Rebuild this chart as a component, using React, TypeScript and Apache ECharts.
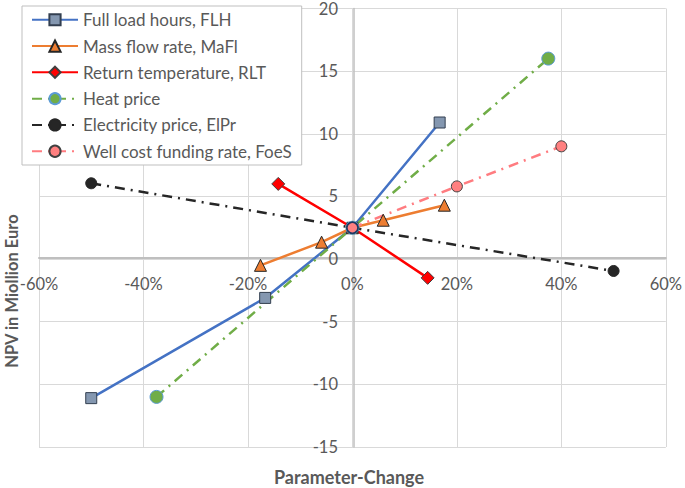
import React, { useEffect, useRef } from "react";
import * as echarts from "echarts";

const xTicks = [-60, -40, -20, 0, 20, 40, 60];
const yTicks = [-15, -10, -5, 0, 5, 10, 15, 20];

const seriesNames = [
  "Full load hours, FLH",
  "Mass flow rate, MaFl",
  "Return temperature, RLT",
  "Heat price",
  "Electricity price, ElPr",
  "Well cost funding rate, FoeS",
];

const flh: [number, number][] = [[-50, -11.1], [-16.7, -3.1], [0, 2.5], [16.7, 10.9]];
const mafl: [number, number][] = [[-17.6, -0.5], [-5.9, 1.35], [0, 2.5], [5.9, 3.1], [17.6, 4.3]];
const rlt: [number, number][] = [[-14.2, 6.0], [0, 2.5], [14.4, -1.5]];
const heat: [number, number][] = [[-37.5, -11.0], [0, 2.5], [37.5, 16.0]];
const elpr: [number, number][] = [[-50, 6.05], [0, 2.5], [50, -0.95]];
const foes: [number, number][] = [[0, 2.5], [20, 5.8], [40, 9.0]];

const FONT = "Lato";
const TXT = "#595959";
const DASHDOT = [10, 6, 2, 6];

const W = 685;
const H = 488;
const GRID = { left: 39, right: 16, top: 6, bottom: 41 };

export default function App() {
  const ref = useRef<HTMLDivElement>(null);
  useEffect(() => {
    if (!ref.current) return;
    const chart = echarts.init(ref.current, undefined, { renderer: "svg" });
    const xMin = xTicks[0];
    const xMax = xTicks[xTicks.length - 1];
    const yMin = yTicks[0];
    const yMax = yTicks[yTicks.length - 1];
    const gw = W - GRID.left - GRID.right;
    const gh = H - GRID.top - GRID.bottom;
    // shift axes so they cross at zero (like Excel)
    const xOffset = -Math.round((gh * (0 - yMin)) / (yMax - yMin));
    const yOffset = -Math.round((gw * (0 - xMin)) / (xMax - xMin));

    const mk = (
      name: string,
      data: any[],
      color: string,
      symbol: string,
      size: number,
      fill: string,
      border: string,
      dash: any
    ) => ({
      name,
      type: "line",
      data,
      symbol,
      symbolSize: size,
      lineStyle: { color, width: 2.5, type: dash },
      itemStyle: { color: fill, borderColor: border, borderWidth: 1 },
      emphasis: { disabled: true },
    });
    const foesData = foes.map((p, i) =>
      i === 0 ? { value: p, itemStyle: { borderColor: "#1F3864", borderWidth: 1.5 } } : p
    );
    chart.setOption({
      animation: false,
      textStyle: { fontFamily: FONT },
      grid: { ...GRID },
      legend: {
        left: 22,
        top: 6,
        orient: "vertical",
        backgroundColor: "#ffffff",
        borderColor: "#BFBFBF",
        borderWidth: 1,
        padding: [3.75, 10, 3.75, 9],
        itemWidth: 46,
        itemHeight: 14,
        itemGap: 6.3,
        textStyle: { fontFamily: FONT, fontSize: 17, lineHeight: 20, color: TXT },
        data: seriesNames,
      },
      xAxis: {
        type: "value",
        min: xMin,
        max: xMax,
        interval: 20,
        position: "bottom",
        offset: xOffset,
        axisLine: { onZero: false, lineStyle: { color: "#BFBFBF", width: 2 } },
        axisTick: { show: false },
        axisLabel: { formatter: (v: number) => `${v}%`, color: TXT, fontSize: 16.5, fontFamily: FONT, margin: 17 },
        splitLine: { show: true, lineStyle: { color: "#D9D9D9", width: 1 } },
      },
      yAxis: {
        type: "value",
        min: yMin,
        max: yMax,
        interval: 5,
        position: "left",
        offset: yOffset,
        axisLine: { show: true, onZero: false, lineStyle: { color: "#BFBFBF", width: 1.5 } },
        axisTick: { show: false },
        axisLabel: { color: TXT, fontSize: 16.5, fontFamily: FONT, margin: 16 },
        splitLine: { show: true, lineStyle: { color: "#D9D9D9", width: 1 } },
      },
      graphic: [
        {
          type: "text",
          x: 12,
          y: 291,
          rotation: Math.PI / 2,
          style: {
            text: "NPV in Miollion Euro",
            fill: TXT,
            font: `bold 16.5px ${FONT}`,
            align: "center",
            verticalAlign: "middle",
          },
        },
        {
          type: "text",
          x: 349,
          y: 477,
          style: {
            text: "Parameter-Change",
            fill: TXT,
            font: `bold 18px ${FONT}`,
            align: "center",
            verticalAlign: "middle",
          },
        },
      ],
      series: [
        mk(seriesNames[0], flh, "#4472C4", "rect", 11, "#8497B0", "#333F50", "solid"),
        mk(seriesNames[1], mafl, "#ED7D31", "triangle", 12, "#ED7D31", "#262626", "solid"),
        mk(seriesNames[2], rlt, "#FF0000", "diamond", 13, "#FF0000", "#404040", "solid"),
        mk(seriesNames[3], heat, "#70AD47", "circle", 13, "#70AD47", "#5B9BD5", DASHDOT),
        mk(seriesNames[4], elpr, "#262626", "circle", 11, "#262626", "#262626", DASHDOT),
        mk(seriesNames[5], foesData, "#FF7C80", "circle", 11, "#FF8080", "#404040", DASHDOT),
      ],
    });
    return () => chart.dispose();
  }, []);
  return <div ref={ref} style={{ width: W, height: H, position: "absolute", left: 0, top: 0 }} />;
}
